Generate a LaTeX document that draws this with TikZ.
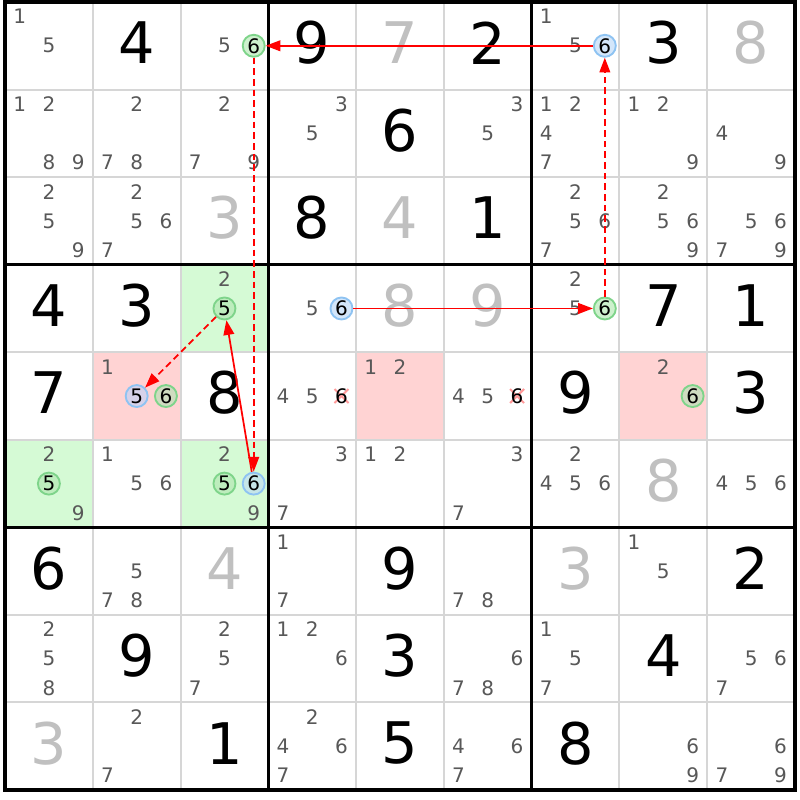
\documentclass[tikz,border=0pt]{standalone}
\usepackage{fontspec}
\setmainfont{DejaVu Sans}
\usetikzlibrary{arrows.meta}
\definecolor{gstroke}{HTML}{7ED48A}
\definecolor{bstroke}{HTML}{8EC3F2}
\definecolor{gfillw}{HTML}{CDF1CD}
\definecolor{gfillg}{HTML}{BDEDBD}
\definecolor{gfillr}{HTML}{CFDCC0}
\definecolor{bfillw}{HTML}{D3E6FA}
\definecolor{bfillg}{HTML}{C6E6E8}
\definecolor{bfillr}{HTML}{D6D2EA}
\definecolor{cellgreen}{HTML}{D5FAD5}
\definecolor{cellred}{HTML}{FFD3D3}
\definecolor{candgray}{HTML}{585858}
\definecolor{solvedgray}{HTML}{C0C0C0}
\definecolor{gridgray}{HTML}{D6D6D6}
\definecolor{arrowred}{HTML}{FF0000}
\definecolor{xpink}{HTML}{FF9A9A}
\tikzset{
  given/.style={text=black, font=\fontsize{43pt}{43pt}\selectfont, inner sep=0pt},
  solved/.style={given, text=solvedgray},
  cand/.style={text=candgray, font=\fontsize{15pt}{15pt}\selectfont, inner sep=0pt},
  gcirc/.style={cand, text=black, circle, draw=gstroke, line width=1.4pt, fill=#1, minimum size=16.5pt},
  gcirc/.default=gfillw,
  bcirc/.style={cand, text=black, circle, draw=bstroke, line width=1.4pt, fill=#1, minimum size=16.5pt},
  bcirc/.default=bfillw,
  elim/.style={cand, text=black},
  xmark/.style={draw=xpink, line width=1.5pt},
  strong/.style={draw=arrowred, color=arrowred, line width=1.3pt, -{Triangle[length=11pt,width=8pt]}},
  weak/.style={strong, dash pattern=on 5pt off 3pt},
  thinline/.style={draw=gridgray, line width=1.5pt},
  thickline/.style={draw=black, line width=2.4pt},
  gcell/.style={fill=cellgreen},
  rcell/.style={fill=cellred}
}
\newcommand\CandAt[4]{%
  \pgfmathsetmacro\cx{5+(#3-1)*87.78+(mod(#4-1,3)+0.5)*29.26}%
  \pgfmathsetmacro\cy{2+(#2-1)*87.56+(floor((#4-1)/3)+0.5)*29.19}%
  \node[#1] (k#2#3#4) at (\cx,\cy) {#4};}
\newcommand\Cands[3]{\foreach \kk in {#3}{\CandAt{cand}{#1}{#2}{\kk}}}
\newcommand\Elim[3]{%
  \pgfmathsetmacro\cx{5+(#2-1)*87.78+(mod(#3-1,3)+0.5)*29.26}%
  \pgfmathsetmacro\cy{2+(#1-1)*87.56+(floor((#3-1)/3)+0.5)*29.19}%
  \draw[xmark] ({\cx-7},{\cy-7}) -- ({\cx+7},{\cy+7}) ({\cx-7},{\cy+7}) -- ({\cx+7},{\cy-7});
  \node[elim] (k#1#2#3) at (\cx,\cy) {#3};}
\newcommand\Giv[3]{%
  \pgfmathsetmacro\cx{5+(#2-0.5)*87.78}%
  \pgfmathsetmacro\cy{2+(#1-0.5)*87.56-3}%
  \node[given] (g#1#2) at (\cx,\cy) {#3};}
\newcommand\Sol[3]{%
  \pgfmathsetmacro\cx{5+(#2-0.5)*87.78}%
  \pgfmathsetmacro\cy{2+(#1-0.5)*87.56-3}%
  \node[solved] (g#1#2) at (\cx,\cy) {#3};}
\newcommand\CellFill[3]{\fill[#3] ({5+(#2-1)*87.78},{2+(#1-1)*87.56}) rectangle ++(87.78,87.56);}
\begin{document}
\begin{tikzpicture}[x=0.75pt,y=-0.75pt]
\useasboundingbox (0,0) rectangle (800,800);
\fill[white] (0,0) rectangle (800,800);
% cell fills
\CellFill{4}{3}{gcell}
\CellFill{6}{1}{gcell}
\CellFill{6}{3}{gcell}
\CellFill{5}{2}{rcell}
\CellFill{5}{5}{rcell}
\CellFill{5}{8}{rcell}
% grid
\foreach \i in {1,2,4,5,7,8}{
  \draw[thinline] ({5+\i*87.78},2) -- ({5+\i*87.78},790);
  \draw[thinline] (5,{2+\i*87.56}) -- (795,{2+\i*87.56});
}
\foreach \i in {0,3,6,9}{
  \draw[thickline] ({5+\i*87.78},2) -- ({5+\i*87.78},790);
  \draw[thickline] (5,{2+\i*87.56}) -- (795,{2+\i*87.56});
}
\draw[thickline] (5,2) rectangle (795,790);
% row 1
\Cands{1}{1}{1,5}
\Giv{1}{2}{4}
\Cands{1}{3}{5}
\CandAt{gcirc}{1}{3}{6}
\Giv{1}{4}{9}
\Sol{1}{5}{7}
\Giv{1}{6}{2}
\Cands{1}{7}{1,5}
\CandAt{bcirc}{1}{7}{6}
\Giv{1}{8}{3}
\Sol{1}{9}{8}
% row 2
\Cands{2}{1}{1,2,8,9}
\Cands{2}{2}{2,7,8}
\Cands{2}{3}{2,7,9}
\Cands{2}{4}{3,5}
\Giv{2}{5}{6}
\Cands{2}{6}{3,5}
\Cands{2}{7}{1,2,4,7}
\Cands{2}{8}{1,2,9}
\Cands{2}{9}{4,9}
% row 3
\Cands{3}{1}{2,5,9}
\Cands{3}{2}{2,5,6,7}
\Sol{3}{3}{3}
\Giv{3}{4}{8}
\Sol{3}{5}{4}
\Giv{3}{6}{1}
\Cands{3}{7}{2,5,6,7}
\Cands{3}{8}{2,5,6,9}
\Cands{3}{9}{5,6,7,9}
% row 4
\Giv{4}{1}{4}
\Giv{4}{2}{3}
\Cands{4}{3}{2}
\CandAt{gcirc=gfillg}{4}{3}{5}
\Cands{4}{4}{5}
\CandAt{bcirc}{4}{4}{6}
\Sol{4}{5}{8}
\Sol{4}{6}{9}
\Cands{4}{7}{2,5}
\CandAt{gcirc}{4}{7}{6}
\Giv{4}{8}{7}
\Giv{4}{9}{1}
% row 5
\Giv{5}{1}{7}
\Cands{5}{2}{1}
\CandAt{bcirc=bfillr}{5}{2}{5}
\CandAt{gcirc=gfillr}{5}{2}{6}
\Giv{5}{3}{8}
\Cands{5}{4}{4,5}
\Elim{5}{4}{6}
\Cands{5}{5}{1,2}
\Cands{5}{6}{4,5}
\Elim{5}{6}{6}
\Giv{5}{7}{9}
\Cands{5}{8}{2}
\CandAt{gcirc=gfillr}{5}{8}{6}
\Giv{5}{9}{3}
% row 6
\Cands{6}{1}{2,9}
\CandAt{gcirc=gfillg}{6}{1}{5}
\Cands{6}{2}{1,5,6}
\Cands{6}{3}{2,9}
\CandAt{gcirc=gfillg}{6}{3}{5}
\CandAt{bcirc=bfillg}{6}{3}{6}
\Cands{6}{4}{3,7}
\Cands{6}{5}{1,2}
\Cands{6}{6}{3,7}
\Cands{6}{7}{2,4,5,6}
\Sol{6}{8}{8}
\Cands{6}{9}{4,5,6}
% row 7
\Giv{7}{1}{6}
\Cands{7}{2}{5,7,8}
\Sol{7}{3}{4}
\Cands{7}{4}{1,7}
\Giv{7}{5}{9}
\Cands{7}{6}{7,8}
\Sol{7}{7}{3}
\Cands{7}{8}{1,5}
\Giv{7}{9}{2}
% row 8
\Cands{8}{1}{2,5,8}
\Giv{8}{2}{9}
\Cands{8}{3}{2,5,7}
\Cands{8}{4}{1,2,6}
\Giv{8}{5}{3}
\Cands{8}{6}{6,7,8}
\Cands{8}{7}{1,5,7}
\Giv{8}{8}{4}
\Cands{8}{9}{5,6,7}
% row 9
\Sol{9}{1}{3}
\Cands{9}{2}{2,7}
\Giv{9}{3}{1}
\Cands{9}{4}{2,4,6,7}
\Giv{9}{5}{5}
\Cands{9}{6}{4,6,7}
\Giv{9}{7}{8}
\Cands{9}{8}{6,9}
\Cands{9}{9}{6,7,9}
% chain
\draw[strong] (k446) -- (k476);
\draw[weak] (k476) -- (k176);
\draw[strong] (k176) -- (k136);
\draw[weak] (k136) -- (k636);
\draw[strong] (k636) -- (k435);
\draw[weak] (k435) -- (k525);
\end{tikzpicture}
\end{document}
